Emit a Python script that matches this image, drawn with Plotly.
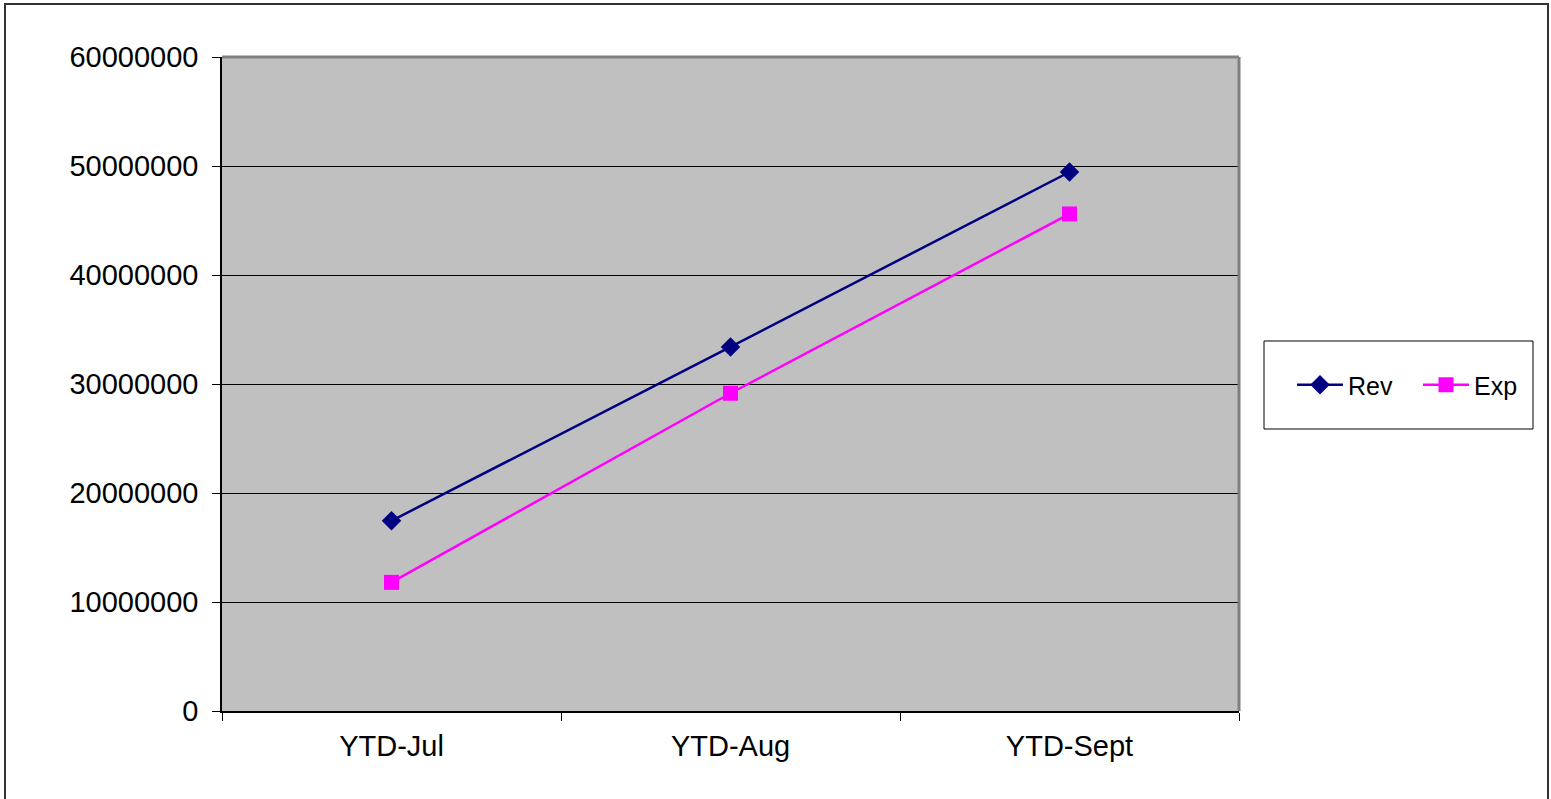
import plotly.graph_objects as go

categories = ["YTD-Jul", "YTD-Aug", "YTD-Sept"]
rev = [17450000, 33400000, 49450000]
exp = [11800000, 29150000, 45600000]
y_ticks = [0, 10000000, 20000000, 30000000, 40000000, 50000000, 60000000]

W, H = 1551, 799
L, R, T, B = 222, 312, 57, 88
pw, ph = W - L - R, H - T - B

def px_x(x):
    return (x - L) / pw

def px_y(y):
    return (H - B - y) / ph

FONT = "Liberation Sans, Arial, sans-serif"

fig = go.Figure()
fig.add_trace(go.Scatter(
    x=categories, y=rev, name="Rev", mode="lines+markers",
    line=dict(color="#000080", width=2.5),
    marker=dict(symbol="diamond", size=15, color="#000080"),
))
fig.add_trace(go.Scatter(
    x=categories, y=exp, name="Exp", mode="lines+markers",
    line=dict(color="#FF00FF", width=2.5),
    marker=dict(symbol="square", size=15, color="#FF00FF"),
))

shapes = [
    # outer chart border
    dict(type="rect", xref="paper", yref="paper",
         x0=px_x(5), x1=px_x(1548), y0=px_y(805), y1=px_y(4),
         line=dict(color="#333333", width=2), layer="below"),
    # plot area top and right border (gray)
    dict(type="line", xref="paper", yref="paper",
         x0=0, x1=1, y0=1, y1=1, line=dict(color="#808080", width=3), layer="above"),
    dict(type="line", xref="paper", yref="paper",
         x0=1, x1=1, y0=0, y1=1, line=dict(color="#808080", width=3), layer="above"),
    # legend box
    dict(type="rect", xref="paper", yref="paper",
         x0=px_x(1264), x1=px_x(1533), y0=px_y(429), y1=px_y(341),
         line=dict(color="#000000", width=1), fillcolor="white", layer="below"),
]

fig.update_layout(
    width=W, height=H,
    margin=dict(l=L, r=R, t=T, b=B, autoexpand=False),
    paper_bgcolor="white",
    plot_bgcolor="#C0C0C0",
    font=dict(family=FONT, color="black", size=29),
    showlegend=True,
    legend=dict(
        orientation="h", xref="paper", yref="paper",
        x=px_x(1292), y=px_y(385), xanchor="left", yanchor="middle",
        font=dict(family=FONT, size=25, color="black"),
        bgcolor="rgba(0,0,0,0)", borderwidth=0,
        itemwidth=46, entrywidth=65, entrywidthmode="pixels",
    ),
    shapes=shapes,
    xaxis=dict(
        type="category", range=[-0.5, 2.5], tickson="boundaries",
        ticks="outside", ticklen=8, tickcolor="black", tickwidth=1,
        showline=True, linecolor="black", linewidth=1.5,
        showgrid=False, zeroline=False,
        tickfont=dict(family=FONT, size=29, color="black"),
        ticklabelstandoff=8,
    ),
    yaxis=dict(
        range=[0, 60000000], tickvals=y_ticks, tickformat="d",
        ticks="outside", ticklen=8, tickcolor="black", tickwidth=1,
        showline=True, linecolor="black", linewidth=1.5,
        showgrid=True, gridcolor="black", gridwidth=1,
        zeroline=False,
        tickfont=dict(family=FONT, size=29, color="black"),
        ticklabelstandoff=8,
    ),
)

fig.write_html("out.html")
